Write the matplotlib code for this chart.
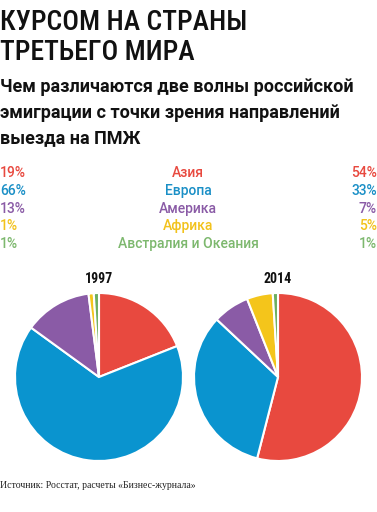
import matplotlib
matplotlib.use("Agg")
from matplotlib import pyplot as plt

regions = ['Азия', 'Европа', 'Америка', 'Африка', 'Австралия и Океания']
share_1997 = [19, 66, 13, 1, 1]
share_2014 = [54, 33, 7, 5, 1]
years = ['1997', '2014']
colors = ['#e8493f', '#0a94cf', '#8a5ba6', '#f4c51b', '#6bae5f']
text_colors = ['#e8493f', '#1a8fc6', '#8a5ba6', '#f2c21c', '#7db86e']

narrow = ['Roboto Condensed', 'DejaVu Sans']
sans = ['Roboto', 'DejaVu Sans']

W, H = 377, 512
fig = plt.figure(figsize=(W/100, H/100), dpi=100)
fig.patch.set_facecolor('white')

def px(x, y):
    return x / W, 1 - y / H

# title
fig.text(*px(0, 19), 'КУРСОМ НА СТРАНЫ', fontsize=20, family=narrow, weight='medium',
         va='center_baseline', ha='left', color='#111111')
fig.text(*px(0, 49), 'ТРЕТЬЕГО МИРА', fontsize=20, family=narrow, weight='medium',
         va='center_baseline', ha='left', color='#111111')

sub = ['Чем различаются две волны российской',
       'эмиграции с точки зрения направлений',
       'выезда на ПМЖ']
for i, s in enumerate(sub):
    fig.text(*px(0, 85 + i * 25.5), s, fontsize=13, family=sans,
             weight='bold', va='center_baseline', ha='left', color='#111111')

# legend rows
for i, r in enumerate(regions):
    y = 171.5 + i * 17.8
    c = text_colors[i]
    fig.text(*px(0, y), f'{share_1997[i]}%', fontsize=10, family=sans, weight='medium',
             va='center_baseline', ha='left', color=c)
    fig.text(*px(188, y), r, fontsize=10, family=sans, weight='medium',
             va='center_baseline', ha='center', color=c)
    fig.text(*px(377, y), f'{share_2014[i]}%', fontsize=10, family=sans, weight='medium',
             va='center_baseline', ha='right', color=c)

# pies
r = 84
for cx, data, yr in [(99, share_1997, years[0]), (278, share_2014, years[1])]:
    ax = fig.add_axes([(cx - r) / W, (H - 377 - r) / H, 2 * r / W, 2 * r / H])
    ax.pie(data, colors=colors, startangle=90, counterclock=False,
           wedgeprops=dict(edgecolor='white', linewidth=1.5))
    ax.set_aspect('equal')
    ax.set_xlim(-1.0, 1.0)
    ax.set_ylim(-1.0, 1.0)
    ax.axis('off')
    fig.text(*px(cx, 277.5), yr, fontsize=10, family=narrow, weight='bold',
             va='center_baseline', ha='center', color='#111111')

fig.text(*px(0, 485), 'Источник: Росстат, расчеты «Бизнес-журнала»', fontsize=7,
         family=['Liberation Serif', 'DejaVu Serif'], va='center_baseline', ha='left', color='#222222')

fig.savefig('out.png', dpi=100)
